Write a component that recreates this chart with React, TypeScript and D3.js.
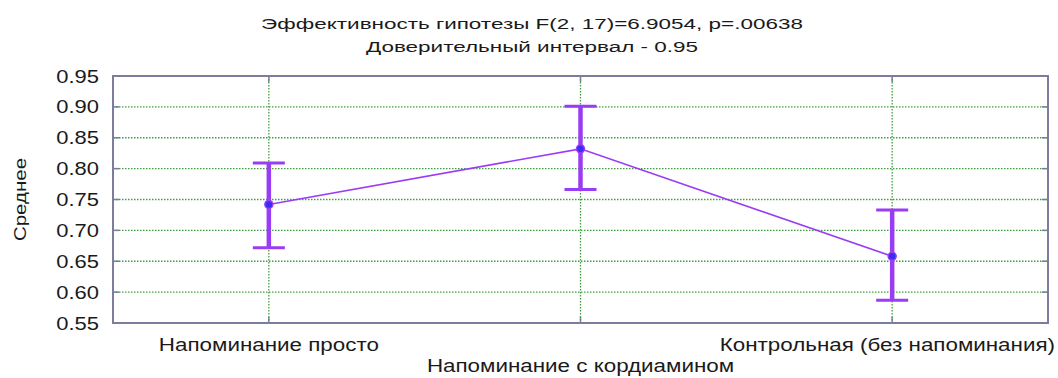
import * as d3 from 'd3';
import React from 'react';

const categories = ['Напоминание просто', 'Напоминание с кордиамином', 'Контрольная (без напоминания)'];
const means = [0.742, 0.832, 0.658];
const upper = [0.809, 0.901, 0.733];
const lower = [0.672, 0.766, 0.587];
const yTicks = [0.55, 0.6, 0.65, 0.7, 0.75, 0.8, 0.85, 0.9, 0.95];

const titleLines = ['Эффективность гипотезы F(2, 17)=6.9054, p=.00638', 'Доверительный интервал - 0.95'];
const yTitle = 'Среднее';

const W = 1058;
const H = 378;
const margin = { left: 113, right: 10, top: 76, bottom: 55 };

// the source picture is stretched sideways, so text is widened to match
const stretch = 1.28;
const font = '"Liberation Sans", Arial, sans-serif';
const purple = '#9b3cf5';
const frame = '#7c7c9c';
const grid = '#3f9f3f';

function Wide(props: { x: number; y: number; size: number; anchor: 'start' | 'middle' | 'end'; sx?: number; children: string }) {
    const { x, y, size, anchor, children } = props;
    const sx = props.sx ?? stretch;
    return (
        <text transform={`translate(${x},${y}) scale(${sx},1)`} textAnchor={anchor} fontSize={size} fill="#1a1a1a">
            {children}
        </text>
    );
}

export default function App() {
    const x = d3.scaleBand<string>().domain(categories).range([margin.left, W - margin.right]).padding(0);
    const y = d3.scaleLinear().domain([0.55, 0.95]).range([H - margin.bottom, margin.top]);
    const cx = (c: string) => (x(c) as number) + x.bandwidth() / 2;
    const x0 = margin.left;
    const x1 = W - margin.right;
    const y0 = y(0.55);
    const y1 = y(0.95);

    const line = d3.line<number>()
        .x((_, i) => cx(categories[i]))
        .y((d) => y(d));

    return (
        <svg width={W} height={H} style={{ position: 'absolute', left: 0, top: 0, background: '#fff' }}
            fontFamily={font}>
            {titleLines.map((t, i) => (
                <Wide key={t} x={532} y={29 + i * 23} size={15.5} anchor="middle" sx={1.45}>{t}</Wide>
            ))}

            {/* horizontal grid */}
            {yTicks.map((t) => {
                const edge = t === 0.55 || t === 0.95;
                return (
                    <g key={t}>
                        <line x1={x0} x2={x1} y1={y(t)} y2={y(t)}
                            stroke={edge ? '#dcdcea' : grid} strokeWidth={edge ? 1 : 1.3}
                            strokeDasharray={edge ? '2,4' : '1.5,1.5'} />
                        <line x1={x0} x2={x0 + 6} y1={y(t)} y2={y(t)} stroke={frame} strokeWidth={1.5} />
                        <line x1={x1 - 6} x2={x1} y1={y(t)} y2={y(t)} stroke={frame} strokeWidth={1.5} />
                        <Wide x={x0 - 14} y={y(t) + 6.5} size={18} anchor="end" sx={1.22}>{t.toFixed(2)}</Wide>
                    </g>
                );
            })}

            {/* vertical grid */}
            {categories.map((c) => (
                <g key={c}>
                    <line x1={cx(c)} x2={cx(c)} y1={y1} y2={y0} stroke={grid} strokeWidth={1.3} strokeDasharray="1.5,1.5" />
                    <line x1={cx(c)} x2={cx(c)} y1={y0 - 6} y2={y0} stroke={frame} strokeWidth={1.5} />
                    <line x1={cx(c)} x2={cx(c)} y1={y1} y2={y1 + 6} stroke={frame} strokeWidth={1.5} />
                </g>
            ))}

            <rect x={x0} y={y1} width={x1 - x0} height={y0 - y1} fill="none" stroke={frame} strokeWidth={2} />

            {/* x labels */}
            {categories.map((c, i) => (
                <Wide key={c} x={i === 2 ? W - 3 : cx(c)} y={i === 1 ? 372 : 351}
                    anchor={i === 2 ? 'end' : 'middle'} size={17.5}>{c}</Wide>
            ))}

            <g transform={`translate(26,${(y0 + y1) / 2}) rotate(-90)`}>
                <Wide x={0} y={0} size={16} anchor="middle">{yTitle}</Wide>
            </g>

            <path d={line(means) || ''} fill="none" stroke={purple} strokeWidth={1.6} />

            {categories.map((c, i) => (
                <g key={c}>
                    <line x1={cx(c)} x2={cx(c)} y1={y(upper[i])} y2={y(lower[i])} stroke={purple} strokeWidth={4.5} />
                    <line x1={cx(c) - 16} x2={cx(c) + 16} y1={y(upper[i])} y2={y(upper[i])} stroke={purple} strokeWidth={3} />
                    <line x1={cx(c) - 16} x2={cx(c) + 16} y1={y(lower[i])} y2={y(lower[i])} stroke={purple} strokeWidth={3} />
                    <circle cx={cx(c)} cy={y(means[i])} r={4} fill="#3a2cf0" stroke={purple} strokeWidth={1.5} />
                </g>
            ))}
        </svg>
    );
}
